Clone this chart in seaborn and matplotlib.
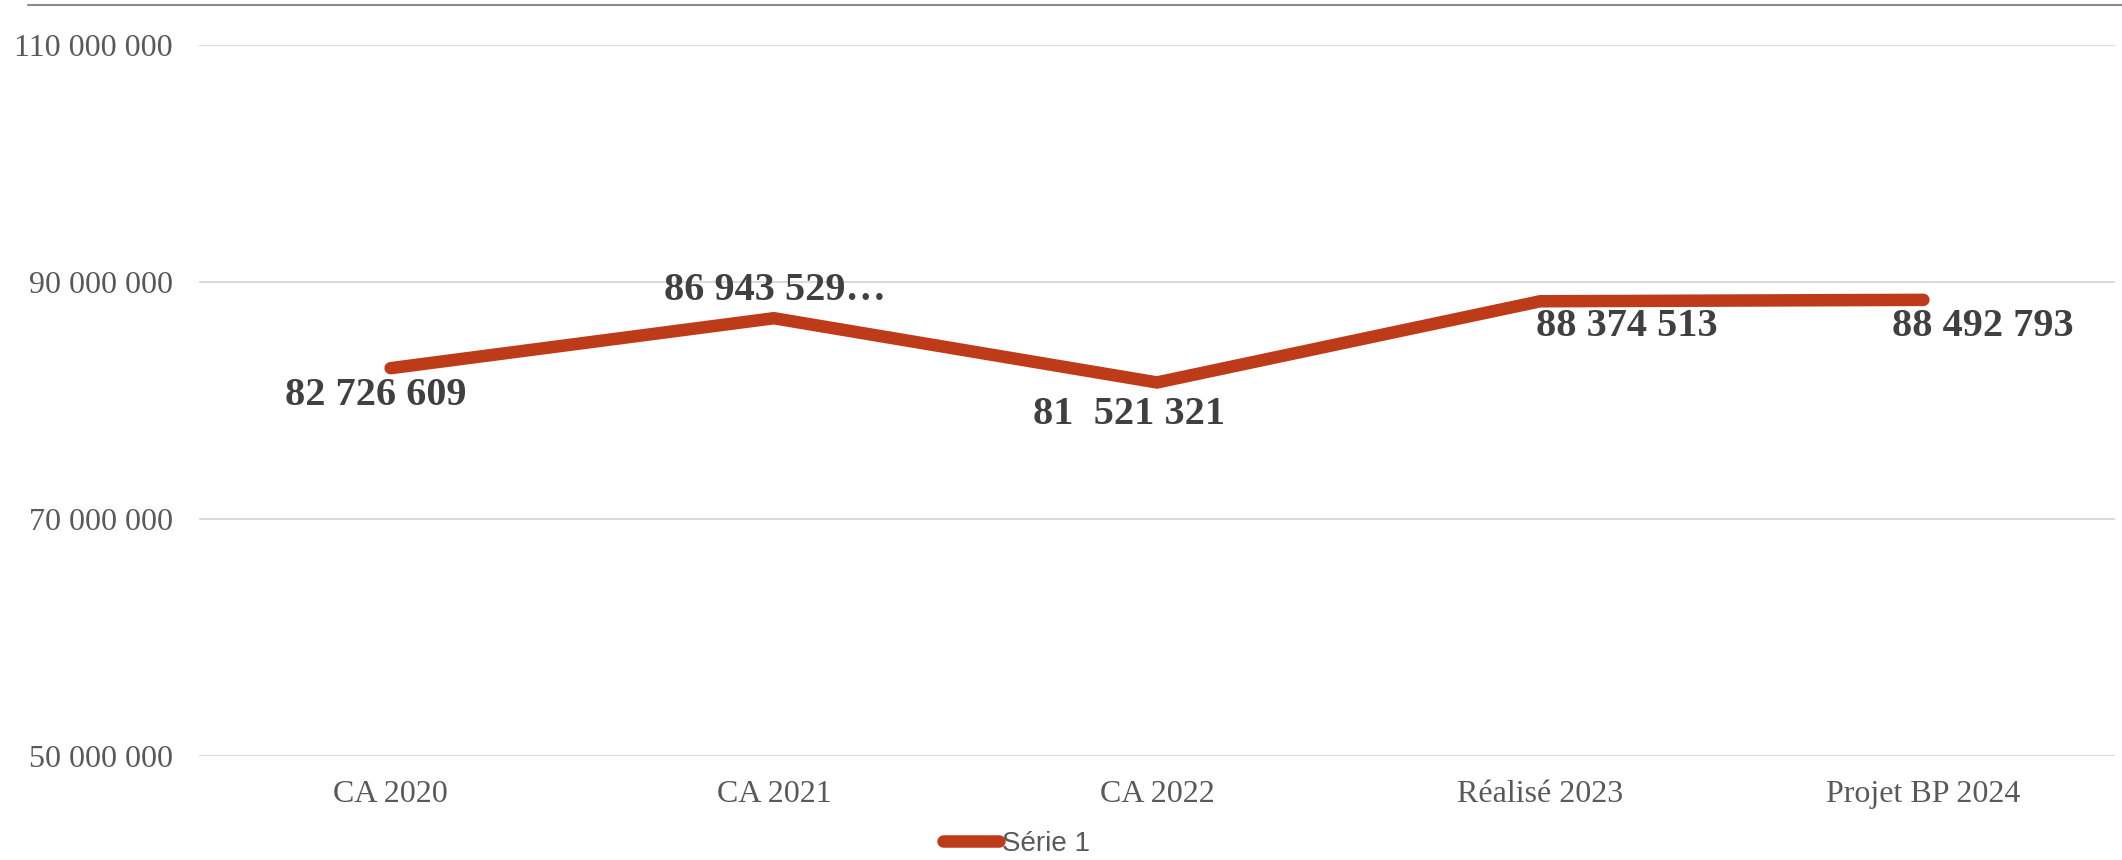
import matplotlib
matplotlib.use("Agg")
import matplotlib.pyplot as plt
from matplotlib.lines import Line2D
from matplotlib.ticker import FuncFormatter
import seaborn as sns
import pandas as pd

# Revenue by year (euros)
categories = ["CA 2020", "CA 2021", "CA 2022", "Réalisé 2023", "Projet BP 2024"]
values = [82726609, 86943529, 81521321, 88374513, 88492793]
label_suffix = ["", "…", "", "", ""]
series_name = "Série 1"
y_ticks = [50000000, 70000000, 90000000, 110000000]

# Offsets (points) of each value label from its point
label_offsets = [(-11, -20), (1, 20), (-20, -23), (62, -18), (43, -19)]

LINE_COLOR = "#BE3B1A"
LABEL_COLOR = "#404040"
TICK_COLOR = "#595959"
GRID_COLOR = "#D9D9D9"


def spaced(v):
    return f"{int(v):,}".replace(",", " ")


labels = [spaced(v) + s for v, s in zip(values, label_suffix)]
# the 2022 figure is typeset with a wider gap after the millions
labels[2] = labels[2].replace(" ", "  ", 1)

df = pd.DataFrame({"categorie": categories, "montant": values})

sns.set_theme(style="white")
plt.rcParams["font.family"] = ["Liberation Serif", "DejaVu Serif"]

fig = plt.figure(figsize=(21.22, 8.6), dpi=100)
ax = fig.add_axes([0.0938, 0.1209, 0.9029, 0.8268])

sns.lineplot(data=df, x="categorie", y="montant", sort=False, ax=ax,
             color=LINE_COLOR, linewidth=9, solid_capstyle="round",
             solid_joinstyle="miter", label=series_name)

ax.set_ylim(50000000, 110000000)
ax.set_xlim(-0.5, len(categories) - 0.5)
ax.set_yticks(y_ticks)
ax.yaxis.set_major_formatter(FuncFormatter(lambda v, p: spaced(v)))
ax.set_xlabel("")
ax.set_ylabel("")

ax.grid(axis="y", color=GRID_COLOR, linewidth=1.4)
ax.grid(axis="x", visible=False)
ax.set_axisbelow(True)
for side in ["top", "right", "left", "bottom"]:
    ax.spines[side].set_visible(False)

ax.tick_params(axis="y", length=0, pad=19, labelsize=23, labelcolor=TICK_COLOR)
ax.tick_params(axis="x", length=0, pad=17, labelsize=23, labelcolor=TICK_COLOR)

for i, (v, txt, off) in enumerate(zip(values, labels, label_offsets)):
    ax.annotate(txt, xy=(i, v), xytext=off, textcoords="offset points",
                ha="center", va="center", fontsize=29, fontweight="bold",
                color=LABEL_COLOR)

# legend below the plot
handles, leg_labels = ax.get_legend_handles_labels()
ax.get_legend().remove()
fig.legend(handles, leg_labels, loc="center", bbox_to_anchor=(0.479, 0.0185),
           frameon=False, handlelength=2.0, handletextpad=0.1,
           prop={"family": ["Liberation Sans", "DejaVu Sans"], "size": 20},
           labelcolor=TICK_COLOR)

# thin border line along the top of the chart area
fig.add_artist(Line2D([28 / 2122, 1.0], [1 - 4.5 / 860, 1 - 4.5 / 860],
                      transform=fig.transFigure, color="#8C8C8C", linewidth=1.5))

fig.savefig("out.png", dpi=100, facecolor="white")
